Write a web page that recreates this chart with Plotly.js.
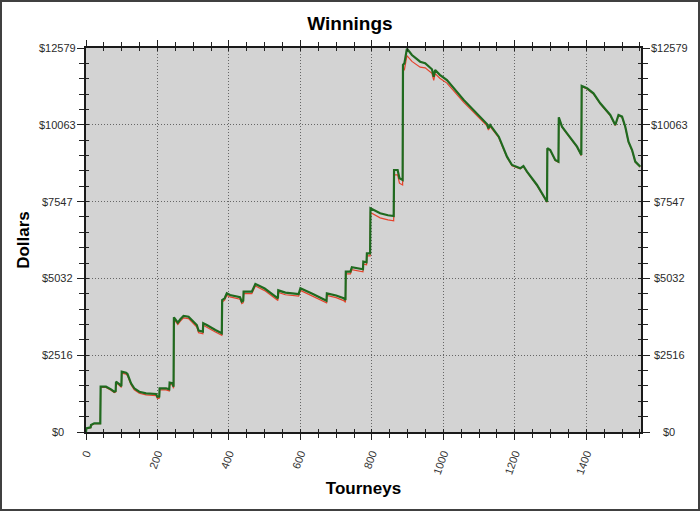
<!DOCTYPE html>
<html>
<head>
<meta charset="utf-8">
<script src="https://cdn.plot.ly/plotly-3.0.1.min.js"></script>
<style>
  html, body { margin: 0; padding: 0; background: #ffffff; }
  #chart { width: 700px; height: 511px; box-sizing: border-box; border: 2px solid #404040; }
</style>
</head>
<body>
<div id="chart"></div>
<script>
// Tourney index of each reading
const tourneys = [0, 1, 13, 14, 23, 40, 41, 56, 70, 79, 83, 84, 93, 99, 100, 112, 116, 126, 135, 149, 168, 182, 196, 200, 205, 206, 224, 233, 234, 242, 245, 246, 250, 257, 264, 273, 287, 301, 310, 315, 327, 328, 338, 362, 380, 381, 388, 394, 403, 431, 436, 440, 441, 464, 474, 500, 537, 538, 558, 595, 600, 635, 673, 674, 700, 721, 726, 727, 740, 744, 760, 775, 776, 785, 786, 795, 796, 805, 823, 845, 861, 862, 872, 877, 886, 887, 891, 898, 912, 935, 949, 968, 973, 977, 990, 1010, 1030, 1057, 1080, 1103, 1122, 1126, 1131, 1155, 1178, 1192, 1215, 1224, 1234, 1262, 1290, 1291, 1299, 1313, 1322, 1323, 1332, 1346, 1374, 1386, 1387, 1402, 1420, 1439, 1467, 1481, 1490, 1500, 1509, 1518, 1528, 1537, 1551];

// Winnings (green line), dollars
const winnings = [0, 120, 150, 230, 285, 285, 1484, 1484, 1398, 1320, 1340, 1648, 1572, 1500, 1976, 1943, 1900, 1595, 1432, 1320, 1268, 1245, 1245, 1150, 1160, 1430, 1432, 1398, 1615, 1595, 1484, 3757, 3692, 3582, 3692, 3800, 3777, 3613, 3505, 3319, 3286, 3561, 3505, 3342, 3233, 4324, 4380, 4543, 4488, 4413, 4269, 4300, 4596, 4596, 4848, 4700, 4380, 4640, 4564, 4521, 4707, 4520, 4302, 4543, 4470, 4380, 4324, 5252, 5252, 5396, 5350, 5330, 5580, 5560, 5854, 5854, 7328, 7273, 7164, 7100, 7076, 8583, 8583, 8311, 8255, 12023, 12078, 12560, 12350, 12131, 12078, 11882, 11640, 11859, 11700, 11531, 11250, 10876, 10600, 10330, 10090, 9949, 10057, 9674, 9019, 8747, 8638, 8714, 8528, 8092, 7544, 9294, 9238, 8911, 8856, 10309, 10002, 9785, 9347, 9075, 11335, 11259, 11095, 10768, 10385, 10057, 10385, 10330, 10002, 9511, 9238, 8856, 8692];

// Second series (red line), dollars
const netWinnings = [0, 110, 140, 215, 270, 270, 1460, 1460, 1370, 1290, 1310, 1610, 1530, 1460, 1930, 1895, 1850, 1545, 1380, 1268, 1215, 1192, 1192, 1098, 1108, 1380, 1380, 1345, 1560, 1540, 1430, 3700, 3630, 3520, 3630, 3740, 3715, 3550, 3440, 3255, 3222, 3498, 3440, 3278, 3168, 4262, 4318, 4480, 4425, 4350, 4205, 4236, 4532, 4530, 4782, 4632, 4310, 4572, 4496, 4452, 4640, 4452, 4232, 4475, 4400, 4305, 4250, 5180, 5180, 5320, 5272, 5250, 5500, 5480, 5770, 5768, 7190, 7130, 7015, 6950, 6920, 8420, 8420, 8150, 8092, 11820, 11870, 12330, 12140, 11950, 11930, 11750, 11520, 11740, 11590, 11430, 11160, 10800, 10530, 10262, 10030, 9890, 10000, 9640, 8995, 8725, 8618, 8694, 8508, 8072, 7530, 9275, 9220, 8893, 8838, 10290, 9985, 9768, 9330, 9058, 11310, 11235, 11072, 10746, 10365, 10038, 10366, 10311, 9984, 9493, 9220, 8840, 8676];

// Axis tick labels
const xTickVals = [0, 200, 400, 600, 800, 1000, 1200, 1400];
const yTickVals = [0, 2515.8, 5031.6, 7547.4, 10063.2, 12579];
const yTickText = ['$0', '$2516', '$5032', '$7547', '$10063', '$12579'];

const FONT = 'Liberation Sans, Arial, Helvetica, sans-serif';
const xMax = 1553;
const yMax = 12579;

const traces = [
  { x: tourneys, y: netWinnings, type: 'scatter', mode: 'lines',
    line: { color: '#e5432c', width: 1.2 }, hoverinfo: 'skip', showlegend: false },
  { x: tourneys, y: winnings, type: 'scatter', mode: 'lines',
    line: { color: '#1f6a1f', width: 2.2 }, hoverinfo: 'skip', showlegend: false },
  // helper trace so the overlay axes are drawn
  { x: [null], y: [null], xaxis: 'x2', yaxis: 'y3', mode: 'lines', hoverinfo: 'skip', showlegend: false }
];

// centred tick labels on both sides (the original chart centres them)
const tickAnnotations = [];
yTickVals.forEach((v, i) => {
  [-0.0505, 1.0505].forEach(px => {
    tickAnnotations.push({
      xref: 'paper', yref: 'y', x: px, y: v, text: yTickText[i], showarrow: false,
      xanchor: 'center', yanchor: 'middle', font: { family: FONT, size: 11, color: '#2b2b2b' }
    });
  });
});

const layout = {
  width: 696, height: 507,
  margin: { l: 84, r: 57, t: 46, b: 77 },
  paper_bgcolor: '#ffffff',
  plot_bgcolor: '#d3d3d3',
  font: { family: FONT, color: '#222222', size: 11 },
  showlegend: false,
  title: { text: '<b>Winnings</b>', font: { family: FONT, size: 19, color: '#000000' },
           xref: 'container', x: 0.5, xanchor: 'center', yref: 'container', y: 0.957, yanchor: 'middle' },
  xaxis: {
    range: [0, xMax], tickvals: xTickVals, ticks: 'outside', ticklen: 6, tickwidth: 1, tickcolor: '#222',
    minor: { dtick: 50, tick0: 0, ticks: 'outside', ticklen: 4, tickcolor: '#222', showgrid: false },
    tickangle: -70, tickfont: { family: FONT, size: 11, color: '#333' }, ticklabelstandoff: 3,
    showline: true, linecolor: '#1a1a1a', linewidth: 2, mirror: 'allticks',
    showgrid: true, gridcolor: '#666666', griddash: '1px,2px', gridwidth: 1, zeroline: false,
    title: { text: '<b>Tourneys</b>', font: { family: FONT, size: 17, color: '#000' }, standoff: 7 },
    automargin: false
  },
  xaxis2: {
    overlaying: 'x', anchor: 'y', range: [0, xMax], tick0: 0, dtick: 50,
    ticks: 'inside', ticklen: 3, tickcolor: '#222', showticklabels: false, mirror: 'ticks',
    showline: false, showgrid: false, zeroline: false
  },
  yaxis: {
    range: [0, yMax], tickvals: yTickVals, ticktext: yTickText, showticklabels: false,
    ticks: 'outside', ticklen: 7, tickcolor: '#222',
    minor: { dtick: 503.16, tick0: 0, ticks: 'outside', ticklen: 5, tickcolor: '#222', showgrid: false },
    showline: true, linecolor: '#1a1a1a', linewidth: 2, mirror: 'allticks',
    showgrid: true, gridcolor: '#666666', griddash: '1px,2px', gridwidth: 1, zeroline: false,
    title: { text: '<b>Dollars</b>', font: { family: FONT, size: 17, color: '#000' }, standoff: 43 },
    automargin: false
  },
  yaxis3: {
    overlaying: 'y', anchor: 'x2', range: [0, yMax], tick0: 0, dtick: 503.16,
    ticks: 'inside', ticklen: 3, tickcolor: '#222', showticklabels: false, mirror: 'ticks',
    showline: false, showgrid: false, zeroline: false
  },
  annotations: tickAnnotations
};

Plotly.newPlot('chart', traces, layout, { staticPlot: true, displayModeBar: false });
</script>
</body>
</html>
